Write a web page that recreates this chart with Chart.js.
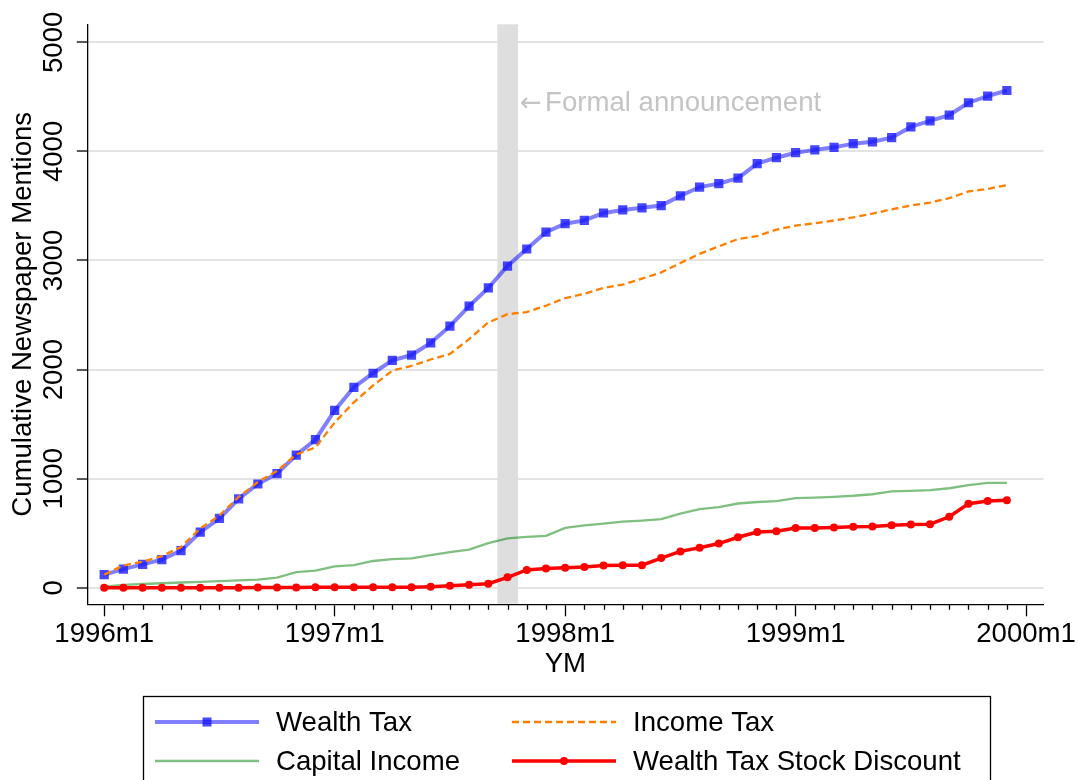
<!DOCTYPE html>
<html>
<head>
<meta charset="utf-8">
<style>
  html, body { margin: 0; padding: 0; background: #fff; }
  #wrap { width: 1078px; height: 780px; }
</style>
<script src="https://cdn.jsdelivr.net/npm/chart.js@4.4.0/dist/chart.umd.min.js"></script>
</head>
<body>
<div id="wrap"><canvas id="chart" width="1078" height="780"></canvas></div>
<script>
// monthly categories, 1996m1 .. 1999m12 (x = index)
const months = [
  "1996m1", "1996m2", "1996m3", "1996m4", "1996m5", "1996m6", "1996m7", "1996m8", "1996m9", "1996m10", "1996m11", "1996m12",
  "1997m1", "1997m2", "1997m3", "1997m4", "1997m5", "1997m6", "1997m7", "1997m8", "1997m9", "1997m10", "1997m11", "1997m12",
  "1998m1", "1998m2", "1998m3", "1998m4", "1998m5", "1998m6", "1998m7", "1998m8", "1998m9", "1998m10", "1998m11", "1998m12",
  "1999m1", "1999m2", "1999m3", "1999m4", "1999m5", "1999m6", "1999m7", "1999m8", "1999m9", "1999m10", "1999m11", "1999m12",
];

const wealthTax = [
  120, 170, 214, 258, 340, 509, 635, 815, 951, 1046, 1216, 1358,
  1625, 1837, 1966, 2085, 2133, 2245, 2398, 2582, 2748, 2949, 3105, 3259,
  3337, 3367, 3435, 3463, 3483, 3503, 3592, 3673, 3704, 3755, 3888, 3942,
  3988, 4014, 4037, 4071, 4088, 4126, 4224, 4279, 4333, 4446, 4507, 4558,
];
const incomeTax = [
  120, 204, 238, 290, 374, 543, 662, 832, 968, 1070, 1222, 1285,
  1515, 1700, 1854, 1990, 2034, 2092, 2143, 2279, 2432, 2507, 2527, 2585,
  2655, 2694, 2748, 2779, 2833, 2891, 2976, 3061, 3129, 3197, 3224, 3282,
  3320, 3340, 3367, 3395, 3429, 3469, 3503, 3531, 3571, 3633, 3656, 3690,
];
const capitalIncome = [
  10, 27, 34, 41, 48, 54, 61, 68, 75, 92, 143, 156,
  195, 207, 245, 262, 269, 299, 327, 350, 408, 452, 466, 476,
  548, 571, 588, 605, 616, 629, 680, 721, 738, 772, 786, 793,
  822, 826, 833, 843, 857, 884, 888, 895, 912, 940, 962, 962,
];
const stockDiscount = [
  0, 0, 0, 0, 0, 0, 0, 0, 2, 3, 3, 5,
  5, 5, 5, 5, 5, 10, 17, 27, 37, 95, 163, 177,
  184, 190, 204, 207, 207, 272, 333, 367, 405, 463, 510, 517,
  548, 548, 552, 558, 562, 572, 579, 582, 650, 770, 795, 802,
];

const tickValues = [0, 12, 24, 36, 48];
const tickLabels = ["1996m1", "1997m1", "1998m1", "1999m1", "2000m1"];
const yTicks = [0, 1000, 2000, 3000, 4000, 5000];

// shaded month of the formal announcement
const bandStart = 20.47;
const bandEnd = 21.55;
const noteText = "Formal announcement";
const noteY = 4440;

const FONT = '"Liberation Sans", Arial, Helvetica, sans-serif';
const FS = 27.6;

const toXY = (arr) => arr.map((v, i) => ({ x: i, y: v }));

// === plugin: band, note, minor ticks, rotated y labels, legend ===

const decor = {
  id: "decor",
  beforeDatasetsDraw(chart) {
    const { ctx, chartArea, scales } = chart;
    const x0 = scales.x.getPixelForValue(bandStart);
    const x1 = scales.x.getPixelForValue(bandEnd);
    ctx.save();
    ctx.fillStyle = "#dedede";
    ctx.fillRect(x0, chartArea.top, x1 - x0, chartArea.bottom - chartArea.top - 0.6);
    ctx.restore();
  },
  afterDraw(chart) {
    const { ctx, chartArea, scales } = chart;
    const xs = scales.x, ys = scales.y;
    ctx.save();

    // note next to the band (arrow glyph from DejaVu, it is longer)
    const nx = xs.getPixelForValue(bandEnd) + 2;
    const ny = ys.getPixelForValue(noteY);
    ctx.fillStyle = "#c4c4c4";
    ctx.textAlign = "left";
    ctx.textBaseline = "middle";
    ctx.font = `26px "DejaVu Sans", sans-serif`;
    ctx.fillText("\u2190", nx, ny + 1);
    ctx.font = `${FS}px ${FONT}`;
    ctx.fillText(noteText, nx + 25, ny);

    // minor monthly ticks
    ctx.strokeStyle = "#000";
    ctx.lineWidth = 1.3;
    ctx.beginPath();
    months.forEach((m, i) => {
      if (i % 12 === 0) return;
      const px = Math.round(xs.getPixelForValue(i)) + 0.5;
      ctx.moveTo(px, chartArea.bottom);
      ctx.lineTo(px, chartArea.bottom + 5.5);
    });
    ctx.stroke();

    // y tick labels, rotated
    ctx.fillStyle = "#000";
    ctx.textAlign = "center";
    ctx.textBaseline = "middle";
    yTicks.forEach((v) => {
      ctx.save();
      ctx.translate(54.5, ys.getPixelForValue(v));
      ctx.rotate(-Math.PI / 2);
      ctx.fillText(String(v), 0, 0);
      ctx.restore();
    });

    // legend box
    ctx.lineWidth = 1.3;
    ctx.strokeStyle = "#000";
    ctx.strokeRect(143.5, 696.5, 847, 110);

    const ds = chart.data.datasets;
    const entries = [
      { d: ds[0], x: 155, y: 722 },
      { d: ds[1], x: 512, y: 722 },
      { d: ds[2], x: 155, y: 761 },
      { d: ds[3], x: 512, y: 761 },
    ];
    entries.forEach(({ d, x, y }) => {
      ctx.save();
      ctx.strokeStyle = d.borderColor;
      ctx.lineWidth = d.borderWidth;
      ctx.setLineDash(d.borderDash || []);
      ctx.beginPath();
      ctx.moveTo(x, y);
      ctx.lineTo(x + 104, y);
      ctx.stroke();
      ctx.setLineDash([]);
      if (d.pointRadius > 0) {
        ctx.fillStyle = d.pointBackgroundColor;
        const cx = x + 52;
        if (d.pointStyle === "rect") {
          ctx.fillRect(cx - 4.5, y - 4.5, 9, 9);
        } else {
          ctx.beginPath();
          ctx.arc(cx, y, d.pointRadius, 0, Math.PI * 2);
          ctx.fill();
        }
      }
      ctx.fillStyle = "#000";
      ctx.font = `${FS}px ${FONT}`;
      ctx.textAlign = "left";
      ctx.textBaseline = "middle";
      ctx.fillText(d.label, x + 121, y + 1.5);
      ctx.restore();
    });

    ctx.restore();
  },
};

// === chart ===

const ctx = document.getElementById("chart").getContext("2d");
new Chart(ctx, {
  type: "line",
  data: {
    datasets: [
      {
        label: "Wealth Tax",
        data: toXY(wealthTax),
        borderColor: "rgba(0, 0, 255, 0.5)",
        borderWidth: 4,
        pointStyle: "rect",
        pointRadius: 6.5,
        pointBackgroundColor: "rgba(25, 25, 255, 0.8)",
        pointBorderWidth: 0,
        order: 4,
      },
      {
        label: "Income Tax",
        data: toXY(incomeTax),
        borderColor: "#ff7f00",
        borderWidth: 2.3,
        borderDash: [7, 4],
        pointRadius: 0,
        order: 3,
      },
      {
        label: "Capital Income",
        data: toXY(capitalIncome),
        borderColor: "rgba(0, 128, 0, 0.5)",
        borderWidth: 2.3,
        pointRadius: 0,
        order: 2,
      },
      {
        label: "Wealth Tax Stock Discount",
        data: toXY(stockDiscount),
        borderColor: "#ff0000",
        borderWidth: 3.5,
        pointStyle: "circle",
        pointRadius: 4,
        pointBackgroundColor: "#ff0000",
        pointBorderWidth: 0,
        order: 1,
      },
    ],
  },
  options: {
    responsive: false,
    animation: false,
    devicePixelRatio: 1,
    layout: { padding: { top: 24.3, right: 30.7, bottom: 98.8, left: 0 } },
    plugins: {
      legend: { display: false },
      tooltip: { enabled: false },
    },
    elements: { line: { tension: 0 } },
    scales: {
      x: {
        type: "linear",
        min: -0.88,
        max: 48.9,
        afterBuildTicks: (s) => { s.ticks = tickValues.map((v) => ({ value: v })); },
        afterFit: (s) => { s.height = 76.9; },
        ticks: {
          autoSkip: false,
          maxRotation: 0,
          padding: 1.5,
          color: "#000",
          font: { family: FONT, size: FS },
          callback: (v, i) => tickLabels[i],
        },
        grid: { drawOnChartArea: false, tickLength: 12, tickColor: "#000", tickWidth: 1.3 },
        border: { display: true, color: "#000", width: 1.3 },
        title: { display: true, text: "YM", color: "#000", font: { family: FONT, size: FS }, padding: 0 },
      },
      y: {
        type: "linear",
        min: -152,
        max: 5165,
        afterBuildTicks: (s) => { s.ticks = yTicks.map((v) => ({ value: v })); },
        afterFit: (s) => { s.width = 87.3; },
        ticks: { display: false },
        grid: { color: "#e3e3e3", lineWidth: 2, tickLength: 10.5, tickColor: "#000", tickWidth: 1.3 },
        border: { display: true, color: "#000", width: 1.3 },
        title: {
          display: true,
          text: "Cumulative Newspaper Mentions",
          color: "#000",
          font: { family: FONT, size: FS },
          padding: { top: 7, bottom: 0 },
        },
      },
    },
  },
  plugins: [decor],
});
</script>
</body>
</html>
